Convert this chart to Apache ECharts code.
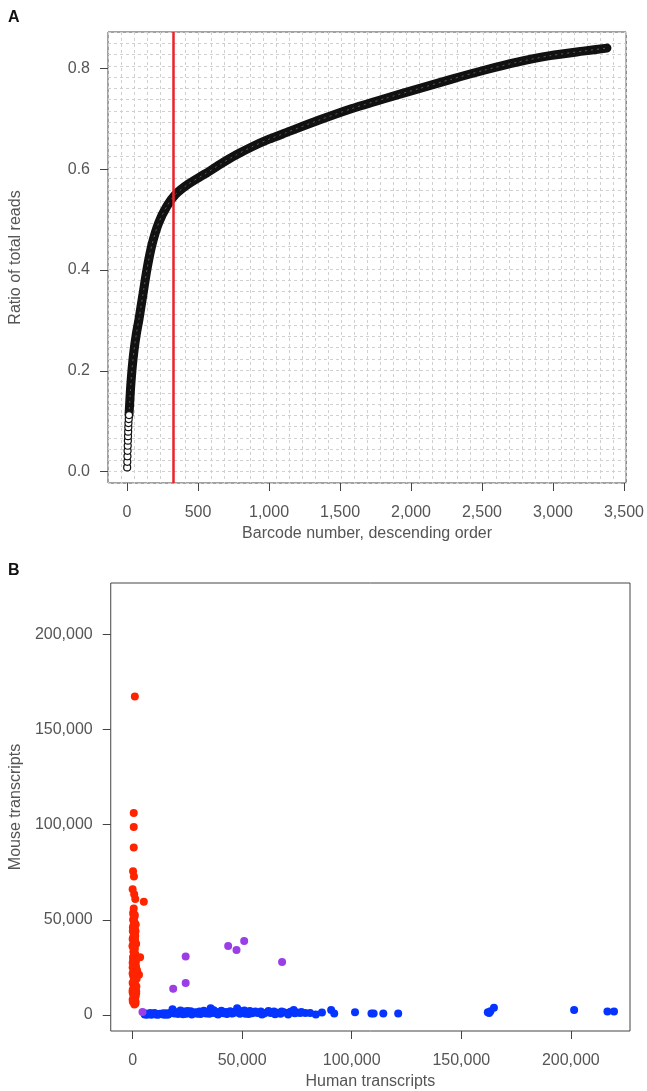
<!DOCTYPE html>
<html>
<head>
<meta charset="utf-8">
<title>Barcode reads and species mixing</title>
<script src="https://cdn.jsdelivr.net/npm/echarts@6/dist/echarts.min.js"></script>
<style>
  html, body { margin: 0; padding: 0; background: #fff; }
  #chart { width: 647px; height: 1091px; }
</style>
</head>
<body>
<div id="chart"></div>
<script>
// panel A: cumulative ratio of reads against barcode rank
const startBarcodes = [1, 2, 3, 4, 5, 6, 7, 8, 9, 10, 12, 14]
const startRatios = [0.008, 0.019, 0.030, 0.041, 0.051, 0.061, 0.070, 0.079, 0.088, 0.096, 0.104, 0.112]
const curveBarcodes = [14, 20, 26, 36, 49, 65, 84, 110, 142, 177, 223, 281, 340, 432, 549, 655, 770, 888, 1000, 1120, 1353, 1585, 1818, 2050, 2282, 2515, 2747, 2980, 3212, 3380]
const curveRatios = [0.112, 0.142, 0.170, 0.205, 0.240, 0.272, 0.302, 0.348, 0.404, 0.452, 0.494, 0.527, 0.550, 0.571, 0.591, 0.610, 0.629, 0.646, 0.660, 0.673, 0.698, 0.721, 0.741, 0.760, 0.779, 0.797, 0.813, 0.826, 0.835, 0.841]
const cutoffBarcode = 328
const barcodeTicks = [0, 500, 1000, 1500, 2000, 2500, 3000, 3500]
const ratioTicks = [0, 0.2, 0.4, 0.6, 0.8]

// panel B: human vs mouse transcripts per cell
const mouseHuman = [1000, 500, 500, 500, 200, 600, 0, 700, 1200, 5100, 500,
  300, 800, 200, 900, 400, 1000, 100, 700, 300, 1100, 500, 0, 900, 400, 1200, 200, 3400, 700, 0, 1300,
  500, 900, 100, 2900, 1500, 600, 0, 1100, 400, 1600, 200, 900, 0, 1300, 600, 1800, 1700, 1400, 0, 0, 2000, 1500, 0, 1300,
  300, 1000, 600, 1400, 100, 800, 1200, 400, 1600, 0, 900, 500, 1300, 200, 1000, 700, 1500, 0, 600, 1100, 300, 1400,
  800, 200, 1200, 500, 900, 0, 1600, 700, 400, 1100, 100, 1300, 800]
const mouseMouse = [167400, 106100, 98800, 88000, 75600, 72800, 66100, 63400, 61000, 59500, 56000,
  53000, 51500, 50000, 48500, 47000, 45500, 44000, 42500, 41000, 39500, 38000, 36500, 35000, 33500, 32000, 30500, 30400, 29000, 27500, 26000,
  24500, 23000, 21500, 21100, 20000, 18500, 17000, 15500, 14000, 12500, 11000, 9500, 8000, 7200, 6500, 19000, 15000, 10000, 12000, 22000, 23500, 28000, 40000, 44000,
  54000, 52500, 49000, 47500, 46000, 43000, 41500, 39000, 37500, 36000, 34500, 33000, 31000, 29500, 28500, 27000, 25500, 25000, 23000, 22500, 20500, 19500,
  18000, 16500, 16000, 14500, 13500, 13000, 11500, 10500, 9000, 8500, 7000, 6000, 5500]
const humanHuman = [5500, 6500, 7500, 8500, 9500, 10500, 11500, 12500, 13500, 14500, 15500, 16500, 17500, 18200, 19000, 20000,
  21000, 21800, 22500, 23500, 24500, 25500, 26500, 27500, 28500, 29500, 30500, 31500, 32500, 33500, 34500, 35600, 36500,
  37500, 38500, 39500, 40500, 41500, 42500, 43500, 44500, 45500, 46500, 47700, 48500, 49500, 50500, 51500, 52500, 53500,
  54500, 55500, 57000, 58500, 60000, 61500, 63000, 64500, 66000, 67500, 69000, 70500, 72000, 73500, 75000, 76500,
  78800, 81000, 83600, 86400, 90600, 92000, 101500, 109000, 110000, 114400, 121200, 162100, 162700, 163300, 164900, 201500, 216700, 219700,
  6000, 8000, 10000, 12000, 14000, 16000, 18800, 20500, 23000, 25000, 27000, 29000, 31000, 33000, 35000, 37000,
  39000, 41000, 43000, 45000, 47000, 49000, 51000, 53000, 56000, 59000, 62000, 65000, 68000, 71000, 74000, 77000]
const humanMouse = [300, 100, 500, 200, 600, 300, 100, 700, 400, 200, 900, 500, 1300, 3000, 800, 1500,
  600, 2400, 1100, 1800, 700, 1300, 2000, 900, 1500, 600, 1800, 1000, 2200, 800, 1400, 3500, 1100,
  1900, 700, 1500, 2300, 900, 1600, 1200, 2000, 800, 1700, 3500, 2400, 1000, 1800, 700, 1400, 2100,
  900, 1500, 1100, 1900, 800, 1500, 1000, 1800, 1200, 700, 1500, 1000, 1700, 2600, 1300, 1000,
  1000, 1000, 300, 1300, 2600, 800, 1400, 800, 800, 800, 800, 1400, 1000, 2000, 3800, 2700, 1900, 1900,
  800, 1000, 1100, 400, 900, 200, 1600, 700, 400, 2100, 300, 1200, 500, 1500, 600, 2500,
  300, 1300, 500, 900, 1300, 600, 2400, 500, 1900, 300, 2100, 400, 1800, 300, 900, 1600]
const mixedHuman = [4500, 18500, 24200, 24200, 43600, 47400, 50900, 68200]
const mixedMouse = [1600, 13800, 16800, 30700, 36300, 34200, 38900, 27800]
const transcriptTicks = [0, 50000, 100000, 150000, 200000]

const zip = (xs, ys) => xs.map((x, i) => [x, ys[i]])
const comma = v => Math.round(v).toLocaleString('en-US')

const textCol = '#555'
const boxCol = '#444'
const font = 'Liberation Sans, Arial, sans-serif'

function valueAxis (gridIndex, min, max, ticks, fmt, extra) {
  return Object.assign({
    type: 'value',
    gridIndex: gridIndex,
    min: min,
    max: max,
    axisLine: { show: false, onZero: false },
    axisTick: {
      show: true,
      length: 8,
      customValues: ticks,
      lineStyle: { color: boxCol, width: 1 }
    },
    axisLabel: {
      customValues: ticks,
      formatter: fmt,
      color: textCol,
      fontSize: 16,
      fontFamily: font,
      margin: 18
    },
    splitLine: { show: false },
    nameLocation: 'middle',
    nameTextStyle: { color: textCol, fontSize: 16, fontFamily: font }
  }, extra)
}

function gridAxis (gridIndex, cells) {
  return {
    type: 'value',
    gridIndex: gridIndex,
    min: 0,
    max: cells,
    interval: 1,
    axisLine: { show: false, onZero: false },
    axisTick: { show: false },
    axisLabel: { show: false },
    splitLine: {
      show: true,
      lineStyle: { color: '#d0d0d0', width: 1, type: [3, 3] }
    }
  }
}

const xLabel = { margin: 22 }

const chart = echarts.init(document.getElementById('chart'), null, { renderer: 'canvas' })

chart.setOption({
  animation: false,
  backgroundColor: '#fff',
  graphic: [
    { type: 'text', left: 8, top: 10, style: { text: 'A', font: 'bold 16px ' + font, fill: '#111' } },
    { type: 'text', left: 8, top: 563, style: { text: 'B', font: 'bold 16px ' + font, fill: '#111' } }
  ],
  grid: [
    { left: 108, top: 32, width: 522, height: 451, show: true, borderColor: boxCol, borderWidth: 1, backgroundColor: 'transparent' },
    { left: 108, top: 583, width: 522, height: 450, show: true, borderColor: boxCol, borderWidth: 1, backgroundColor: 'transparent' }
  ],
  xAxis: [
    valueAxis(0, -134, 3515, barcodeTicks, comma, { name: 'Barcode number, descending order', nameGap: 43 }),
    valueAxis(1, -10000, 227000, transcriptTicks, comma, { name: 'Human transcripts', nameGap: 43 }),
    gridAxis(0, 40)
  ],
  yAxis: [
    valueAxis(0, -0.023, 0.873, ratioTicks, v => v.toFixed(1), { name: 'Ratio of total reads', nameGap: 84 }),
    valueAxis(1, -8400, 227000, transcriptTicks, comma, { name: 'Mouse transcripts', nameGap: 84 }),
    gridAxis(0, 40)
  ],
  series: [
    {
      type: 'line',
      xAxisIndex: 0,
      yAxisIndex: 0,
      data: zip(curveBarcodes, curveRatios),
      smooth: 0.25,
      showSymbol: false,
      lineStyle: { color: '#111', width: 9, cap: 'round', join: 'round' },
      z: 3
    },
    {
      type: 'line',
      xAxisIndex: 0,
      yAxisIndex: 0,
      data: zip(curveBarcodes, curveRatios),
      smooth: 0.25,
      showSymbol: false,
      lineStyle: { color: 'rgba(255,255,255,0.3)', width: 1, type: [2, 4] },
      z: 4
    },
    {
      type: 'scatter',
      xAxisIndex: 0,
      yAxisIndex: 0,
      data: zip(startBarcodes, startRatios),
      symbol: 'circle',
      symbolSize: 7,
      itemStyle: { color: '#fff', borderColor: '#111', borderWidth: 1.2, opacity: 1 },
      z: 4,
      markLine: {
        silent: true,
        symbol: 'none',
        label: { show: false },
        lineStyle: { color: '#e8232a', width: 2.5, type: 'solid' },
        data: [{ xAxis: cutoffBarcode }],
        z: 6
      }
    },
    {
      name: 'Mouse',
      type: 'scatter',
      xAxisIndex: 1,
      yAxisIndex: 1,
      data: zip(mouseHuman, mouseMouse),
      symbolSize: 8,
      itemStyle: { color: '#ff2400', opacity: 1 }
    },
    {
      name: 'Human',
      type: 'scatter',
      xAxisIndex: 1,
      yAxisIndex: 1,
      data: zip(humanHuman, humanMouse),
      symbolSize: 8,
      itemStyle: { color: '#0533ff', opacity: 1 }
    },
    {
      name: 'Mixed',
      type: 'scatter',
      xAxisIndex: 1,
      yAxisIndex: 1,
      data: zip(mixedHuman, mixedMouse),
      symbolSize: 8,
      itemStyle: { color: '#9b3ee6', opacity: 1 }
    }
  ]
})

// x tick labels sit a little lower than the y ones
chart.setOption({
  xAxis: [{ axisLabel: xLabel }, { axisLabel: xLabel }]
})
</script>
</body>
</html>
